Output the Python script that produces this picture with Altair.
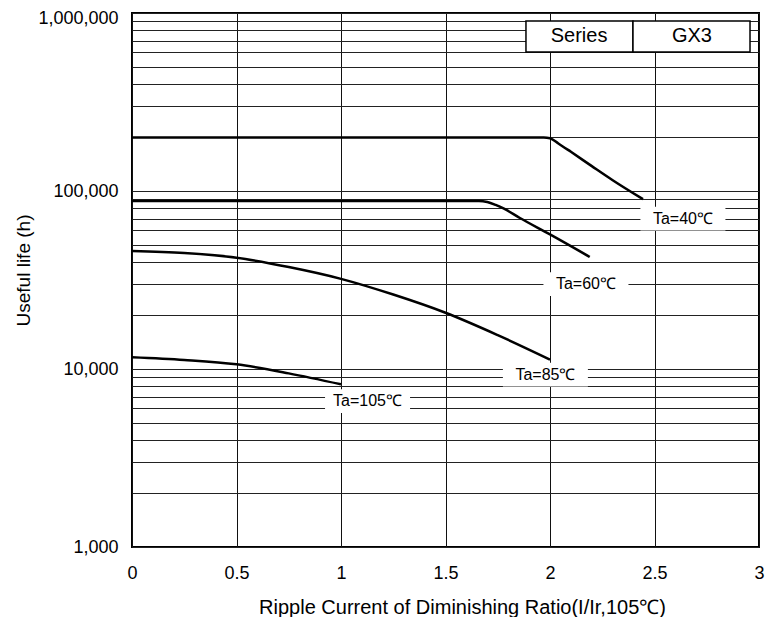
import altair as alt
import pandas as pd

# ---- data ----
x_40 = [0.0, 1.97, 2.0, 2.04, 2.1, 2.2, 2.3, 2.445]
y_40 = [200000, 200000, 198000, 185000, 166000, 138000, 115000, 90000]

x_60 = [0.0, 1.66, 1.70, 1.74, 1.78, 1.856, 2.0, 2.19]
y_60 = [88000, 88000, 86800, 83500, 79500, 70500, 57000, 42600]

x_85 = [0.0, 0.25, 0.5, 0.75, 1.0, 1.25, 1.5, 1.75, 2.0]
y_85 = [46000, 44800, 42200, 37400, 32100, 26200, 20700, 15500, 11300]

x_105 = [0.0, 0.25, 0.5, 0.75, 1.0]
y_105 = [11650, 11250, 10630, 9450, 8200]

series_names = ["Ta=40℃", "Ta=60℃", "Ta=85℃", "Ta=105℃"]
label_x = [2.636, 2.172, 1.978, 1.127]
label_y = [70000, 30000, 9300, 6600]

x_ticks = [0, 0.5, 1, 1.5, 2, 2.5, 3]
y_grid = [1000, 2000, 3000, 4000, 5000, 6000, 7000, 8000, 9000,
          10000, 20000, 30000, 40000, 50000, 60000, 70000, 80000, 90000,
          100000, 200000, 300000, 400000, 500000, 600000, 700000, 800000, 900000,
          1000000]
y_major = [1000, 10000, 100000, 1000000]

box_text = ["Series", "GX3"]
box_x1 = [1.885, 2.397]
box_x2 = [2.397, 2.957]
box_y1 = [604000, 604000]
box_y2 = [902000, 902000]
box_text_x = [2.139, 2.679]
box_text_y = [738000, 738000]

FONT = "Liberation Sans"

rows = []
for name, xs, ys in zip(series_names, [x_40, x_60, x_85, x_105], [y_40, y_60, y_85, y_105]):
    for i, (a, b) in enumerate(zip(xs, ys)):
        rows.append({"series": name, "x": a, "y": b, "order": i})
curves = pd.DataFrame(rows)
labels = pd.DataFrame({"text": series_names, "x": label_x, "y": label_y})
box = pd.DataFrame({"text": box_text, "x1": box_x1, "x2": box_x2, "y1": box_y1, "y2": box_y2,
                    "tx": box_text_x, "ty": box_text_y})

xscale = alt.Scale(domain=[0, 3], nice=False, zero=False)
yscale = alt.Scale(type="log", domain=[1000, 1000000], nice=False)

major_str = ",".join(str(v) for v in y_major)

xaxis = alt.Axis(values=x_ticks, format="~g", ticks=False, domain=False,
                 grid=True, gridColor="#111", gridWidth=1, gridOpacity=1,
                 labelFlush=False, labelOverlap=False,
                 labelFont=FONT, labelFontSize=18, labelColor="black", labelPadding=17,
                 title="Ripple Current of Diminishing Ratio(I/Ir,105℃)",
                 titleFont=FONT, titleFontSize=20, titleFontWeight="normal", titleColor="black",
                 titleX=330, titleY=60, titleAlign="center", titleBaseline="middle")
yaxis = alt.Axis(values=y_grid,
                 labelExpr="indexof([" + major_str + "], datum.value) >= 0 ? format(datum.value, ',') : ''",
                 ticks=False, domain=False, labelFlush=False, labelOverlap=False,
                 labelOffset={"condition": {"test": "datum.value >= 1000000", "value": 5}, "value": 0},
                 grid=True, gridColor="#222", gridWidth=1, gridOpacity=1,
                 labelFont=FONT, labelFontSize=18, labelColor="black", labelPadding=14,
                 title="Useful life (h)",
                 titleFont=FONT, titleFontSize=19, titleFontWeight="normal", titleColor="black",
                 titleX=-109, titleY=257, titleAlign="center", titleBaseline="middle")

lines = alt.Chart(curves).mark_line(color="black", strokeWidth=2.5, interpolate="monotone").encode(
    x=alt.X("x:Q", scale=xscale, axis=xaxis),
    y=alt.Y("y:Q", scale=yscale, axis=yaxis),
    detail="series:N",
    order="order:Q",
)

label_bg = alt.Chart(labels).mark_point(
    shape="M-1,-0.28L1,-0.28L1,0.28L-1,0.28Z", filled=True, fill="white",
    opacity=1, strokeWidth=0, size=7225
).encode(x=alt.X("x:Q", scale=xscale), y=alt.Y("y:Q", scale=yscale))

label_text = alt.Chart(labels).mark_text(
    font=FONT, fontSize=16, color="black", align="center", baseline="middle"
).encode(x=alt.X("x:Q", scale=xscale), y=alt.Y("y:Q", scale=yscale), text="text:N")

box_rect = alt.Chart(box).mark_rect(fill="white", stroke="black", strokeWidth=1.5).encode(
    x=alt.X("x1:Q", scale=xscale), x2="x2:Q",
    y=alt.Y("y1:Q", scale=yscale), y2="y2:Q",
)
box_label = alt.Chart(box).mark_text(
    font=FONT, fontSize=20, color="black", align="center", baseline="middle"
).encode(x=alt.X("tx:Q", scale=xscale), y=alt.Y("ty:Q", scale=yscale), text="text:N")

chart = alt.layer(lines, label_bg, label_text, box_rect, box_label).properties(
    width=627, height=534,
    autosize=alt.AutoSizeParams(type="none"),
    padding={"left": 124, "top": 5, "right": 11, "bottom": 70},
    background="white",
).configure_view(stroke="black", strokeWidth=2)

chart.save("out.html", embed_options={"renderer": "svg", "actions": False})
